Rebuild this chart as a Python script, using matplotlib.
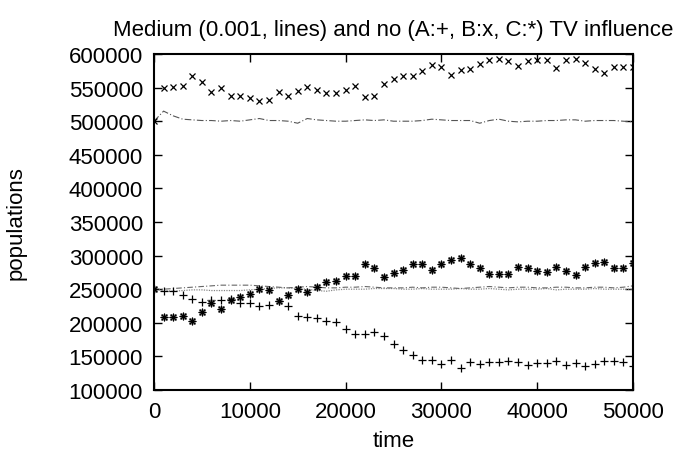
import numpy as np
import matplotlib
matplotlib.use("Agg")
import matplotlib.pyplot as plt

plt.rcParams['font.family'] = ['Liberation Sans', 'DejaVu Sans']

time = np.arange(0, 50001, 1000)

# no TV influence (points)
pop_A = [250000, 248000, 247000, 241000, 235000, 231000, 234000, 234000, 235000, 229000,
         229000, 225600, 226000, 233000, 225600, 210800, 208300, 206800, 202800, 200800,
         191000, 183000, 183000, 186000, 179700, 168200, 159800, 151500, 144000, 144000,
         139000, 144000, 132600, 141500, 139000, 141500, 141500, 142500, 141000, 136600,
         140000, 140000, 142500, 137500, 140000, 135000, 139000, 143500, 143500, 141000,
         136000]
pop_B = [500000, 549000, 551000, 553000, 567000, 559000, 543000, 550000, 538000, 537000,
         535000, 530000, 531000, 543000, 538000, 545000, 551000, 546000, 542000, 542000,
         546000, 553000, 536000, 538000, 556000, 563000, 567000, 567000, 574000, 584000,
         580000, 569000, 576000, 578000, 585000, 591500, 592500, 590000, 582000, 590000,
         591500, 591000, 579000, 591500, 592500, 586000, 578000, 571000, 580000, 581000,
         580000]
pop_C = [251000, 208300, 208000, 210800, 202800, 216700, 229000, 220600, 234000, 239000,
         243000, 250300, 248800, 233000, 241400, 250300, 246500, 253800, 261300, 262700,
         270200, 270200, 287400, 281000, 268700, 274600, 278500, 287400, 287400, 278500,
         287400, 293300, 296800, 287400, 282000, 272100, 272100, 272100, 283400, 282000,
         277700, 276000, 282500, 277600, 271000, 282500, 288400, 291000, 281000, 282000,
         288400]

# medium TV influence (lines)
tv_A = [250000, 248000, 247000, 248000, 249000, 249000, 248000, 248000, 248000, 248000,
        249000, 250000, 251000, 252000, 252000, 251000, 250000, 248000, 247000, 249000,
        250000, 250000, 250000, 251000, 251000, 251000, 250000, 250000, 251000, 250000,
        250000, 250000, 251000, 250000, 250000, 251000, 250000, 249000, 250000, 250000,
        250000, 251000, 249000, 250000, 250000, 250000, 251000, 250000, 250000, 250000,
        250000]
tv_B = [500000, 515000, 508000, 503000, 502000, 501000, 501000, 500000, 501000, 500000,
        502000, 504000, 501000, 501000, 500000, 497000, 504000, 502000, 501000, 500000,
        500000, 501000, 502000, 501000, 502000, 500000, 500000, 500000, 501000, 503000,
        502000, 501000, 501000, 501000, 497000, 501000, 503000, 500000, 499000, 500000,
        500000, 501000, 501000, 502000, 502000, 500000, 501000, 501000, 501000, 500000,
        499000]
tv_C = [250000, 250000, 251000, 252000, 253000, 254000, 255000, 256000, 256000, 256000,
        256000, 255000, 254000, 253000, 252000, 253000, 254000, 253000, 252000, 252000,
        253000, 253000, 254000, 253000, 252000, 252000, 252000, 253000, 252000, 253000,
        253000, 252000, 251000, 252000, 253000, 254000, 253000, 252000, 253000, 253000,
        252000, 252000, 253000, 253000, 252000, 252000, 253000, 253000, 252000, 253000,
        255000]

title = "Medium (0.001, lines) and no (A:+, B:x, C:*) TV influence"
x_ticks = [0, 10000, 20000, 30000, 40000, 50000]
y_ticks = [100000, 150000, 200000, 250000, 300000, 350000, 400000, 450000, 500000, 550000, 600000]

fig = plt.figure(figsize=(6.79, 4.60), dpi=100)
ax = fig.add_axes([154/679, 1-391/460, (633-154)/679, (391-55)/460])

ax.plot(time, tv_B, color='#555555', lw=0.8, linestyle=(0, (6, 2, 1, 2)))
ax.plot(time, tv_A, color='#888888', lw=0.9, linestyle=(0, (1, 1)))
ax.plot(time, tv_C, color='#666666', lw=0.8, linestyle=(0, (5, 2, 1, 2)))

ax.plot(time, pop_A, linestyle='none', marker='+', ms=6, mew=0.9, color='black')
ax.plot(time, pop_B, linestyle='none', marker='x', ms=4.5, mew=0.9, color='black')
ax.plot(time, pop_C, linestyle='none', marker='s', ms=4, mew=0.5, mfc='none', color='#999999')
ax.plot(time, pop_C, linestyle='none', marker=(8, 2, 0), ms=5.5, mew=0.8, color='black')

ax.set_xlim(0, 50000)
ax.set_ylim(100000, 600000)
ax.set_xticks(x_ticks)
ax.set_yticks(y_ticks)
ax.set_xticklabels([str(v) for v in x_ticks])
ax.set_yticklabels([str(v) for v in y_ticks])
ax.tick_params(direction='in', top=True, right=True, length=6, width=1, labelsize=16, pad=8)
for s in ax.spines.values():
    s.set_linewidth(1.5)

ax.set_title(title, fontsize=16, pad=14)
ax.set_xlabel("time", fontsize=16, labelpad=6)
ax.set_ylabel("populations", fontsize=16, labelpad=30)

fig.savefig("out.png", dpi=100)
